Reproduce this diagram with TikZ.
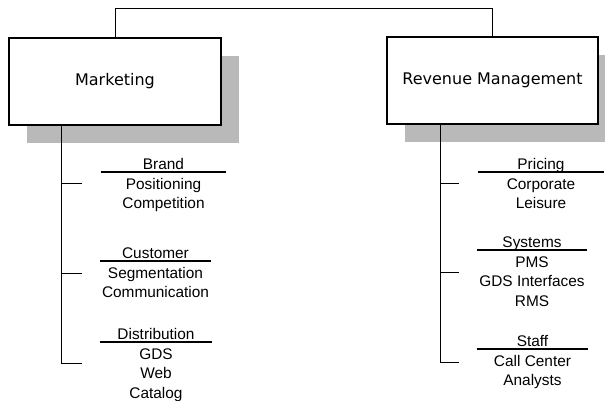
\documentclass[tikz,border=0pt]{standalone}
\usepackage{fontspec}
\setmainfont{Liberation Sans}
\newfontfamily\boxfont{DejaVu Sans}
\usetikzlibrary{shadows}

\begin{document}
\begin{tikzpicture}[x=1pt,y=-1pt,line width=0.9pt,
        dept/.style={draw,rectangle,line width=1.2pt,fill=white,minimum width=211pt,minimum height=87pt,
            font=\boxfont\fontsize{16}{19}\selectfont,
            drop shadow={shadow xshift=18pt,shadow yshift=-18pt,fill=gray!55,draw=none,opacity=1}},
        head/.style={inner sep=0pt,anchor=base,font=\fontsize{15.4}{19.5}\selectfont},
        item/.style={inner sep=0pt,anchor=base,font=\fontsize{15.4}{19.5}\selectfont}]

        \useasboundingbox (0,0) rectangle (605,401);

        \node[dept,minimum width=212pt] (mkt) at (115,81.5) {Marketing};
        \node[dept] (rev) at (492.5,80.5) {Revenue Management};

        \draw (mkt.north) -- ++(0,-29) -| (rev.north);

        % headings, rules and items
        \foreach \name/\cx/\by/\rw/\tx/\ty/\title/\items in {
            brand/163.5/169.5/125/82/183/Brand/{Positioning,Competition},
            cust/155.5/258.5/110/82/273/Customer/{Segmentation,Communication},
            dist/156/339.5/112/82/363/Distribution/{GDS,Web,Catalog},
            pric/541/169.5/126/459/183/Pricing/{Corporate,Leisure},
            sys/532/247.5/110/459/272/Systems/{PMS,GDS Interfaces,RMS},
            staff/532.5/346.5/111/459/362/Staff/{Call Center,Analysts}} {
            \node[head,minimum width=\rw pt] (\name) at (\cx,\by) {\title};
            \draw[line width=1.2pt] ([yshift=-2.5pt]\name.base west) -- ([yshift=-2.5pt]\name.base east);
            \coordinate (\name-tick) at (\tx,\ty);
            \foreach \txt [count=\k] in \items {
                \node[item] (\name-\k) at (\cx,\by+19.5*\k) {\txt};
            }
        }

        \coordinate (mktstem) at ([xshift=53pt]mkt.south west);
        \coordinate (revstem) at ([xshift=54pt]rev.south west);

        \draw (mktstem) |- (dist-tick);
        \draw (brand-tick) -- (brand-tick -| mktstem);
        \draw (cust-tick) -- (cust-tick -| mktstem);

        \draw (revstem) |- (staff-tick);
        \draw (pric-tick) -- (pric-tick -| revstem);
        \draw (sys-tick) -- (sys-tick -| revstem);

    \end{tikzpicture}
\end{document}
